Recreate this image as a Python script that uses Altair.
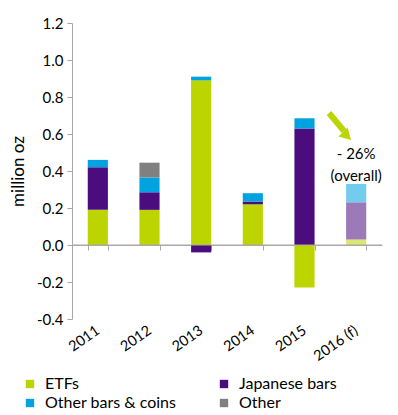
import altair as alt
import pandas as pd

years = ["2011", "2012", "2013", "2014", "2015", "2016 (f)"]
etfs = [0.19, 0.19, 0.89, 0.22, -0.23, 0.03]
japanese = [0.23, 0.095, -0.04, 0.015, 0.63, 0.20]
other_bars = [0.04, 0.08, 0.02, 0.045, 0.055, 0.10]
other = [0.0, 0.08, 0.0, 0.0, 0.0, 0.0]
series = ["ETFs", "Japanese bars", "Other bars & coins", "Other"]
series_colors = {"ETFs": "#BCD400", "Japanese bars": "#4B0C7E",
                 "Other bars & coins": "#00A3E0", "Other": "#808080"}
legend_order = ["ETFs", "Other bars & coins", "Japanese bars", "Other"]
annot = ["- 26%", "(overall)"]
annot_y = [0.49, 0.375]
yticks = [-0.4, -0.2, 0, 0.2, 0.4, 0.6, 0.8, 1.0, 1.2]
zero = [0]

rows = []
for i, y in enumerate(years):
    for k, (name, vals) in enumerate(zip(series, [etfs, japanese, other_bars, other])):
        rows.append({"year": y, "series": name, "value": vals[i], "k": k,
                     "forecast": y.endswith("(f)")})
df = pd.DataFrame(rows)

FONT = "Lato"
AXC = "#a8a8a8"
xscale = alt.Scale(domain=years, paddingInner=0.61, paddingOuter=0.305)
yscale = alt.Scale(domain=[-0.4, 1.2], nice=False)

xaxis = alt.Axis(title=None, orient="bottom", offset=-74, tickBand="extent",
                 domain=True, ticks=True, domainOpacity=1, domainWidth=1,
                 domainColor=AXC, tickColor=AXC, tickSize=5, grid=False,
                 labelAngle=-35, labelFontSize=14.5, labelFont=FONT, labelColor="#000",
                 labelPadding=79, labelAlign="right", labelBaseline="middle")
yaxis = alt.Axis(title="million oz", values=yticks, labelOverlap=False,
                 labelExpr="replace(format(datum.value, '.1f'), '\u2212', '-')",
                 grid=False, domainColor=AXC, tickColor=AXC,
                 tickSize=5, labelFontSize=15, labelFont=FONT, labelColor="#000",
                 labelPadding=4, titleFont=FONT, titleFontSize=17,
                 titleFontWeight="normal", titleColor="#000", titlePadding=9)

bars = alt.Chart(df).mark_bar().encode(
    x=alt.X("year:N", scale=xscale, sort=years, axis=xaxis),
    y=alt.Y("value:Q", scale=yscale, stack="zero", axis=yaxis),
    color=alt.Color("series:N",
                    scale=alt.Scale(domain=legend_order,
                                    range=[series_colors[s] for s in legend_order]),
                    legend=alt.Legend(title=None, orient="none", legendX=-50, legendY=353,
                                      columns=2, symbolType="square", symbolSize=70,
                                      symbolStrokeWidth=0, labelFont=FONT, labelFontSize=16,
                                      labelColor="#000", columnPadding=39, rowPadding=3,
                                      labelOffset=7, symbolOpacity=1)),
    opacity=alt.condition("datum.forecast", alt.value(0.55), alt.value(1)),
    order=alt.Order("k:Q"),
)

# full-width horizontal rule at zero (only y encoded -> spans the plot width)
zero_line = alt.Chart(pd.DataFrame({"v": zero})).mark_rule(
    color=AXC, strokeWidth=1).encode(
    y=alt.Y("v:Q", scale=yscale, axis=yaxis),
)

txt = alt.Chart(pd.DataFrame({"year": ["2016 (f)", "2016 (f)"], "t": annot, "v": annot_y})).mark_text(
    font=FONT, fontSize=15, color="#000").encode(
    x=alt.X("year:N", scale=xscale, sort=years, axis=xaxis),
    y=alt.Y("v:Q", scale=yscale, axis=yaxis),
    text="t:N",
)

arrow_shaft = alt.Chart(pd.DataFrame({"a": [0]})).mark_rule(color="#BCD400", strokeWidth=6).encode(
    x=alt.value(257), y=alt.value(90), x2=alt.value(272), y2=alt.value(108))
arrow_head = alt.Chart(pd.DataFrame({"a": [0]})).mark_point(
    shape="triangle-down", filled=True, color="#BCD400", size=170, angle=315, opacity=1).encode(
    x=alt.value(275), y=alt.value(113))

chart = alt.layer(bars, zero_line, txt, arrow_shaft, arrow_head).properties(
    width=310, height=296, autosize=alt.AutoSizeParams(type="none"),
    padding={"left": 64, "top": 15, "right": 8, "bottom": 92},
).configure_view(stroke=None)

chart.save("out.html", embed_options={"renderer": "svg", "actions": False})
